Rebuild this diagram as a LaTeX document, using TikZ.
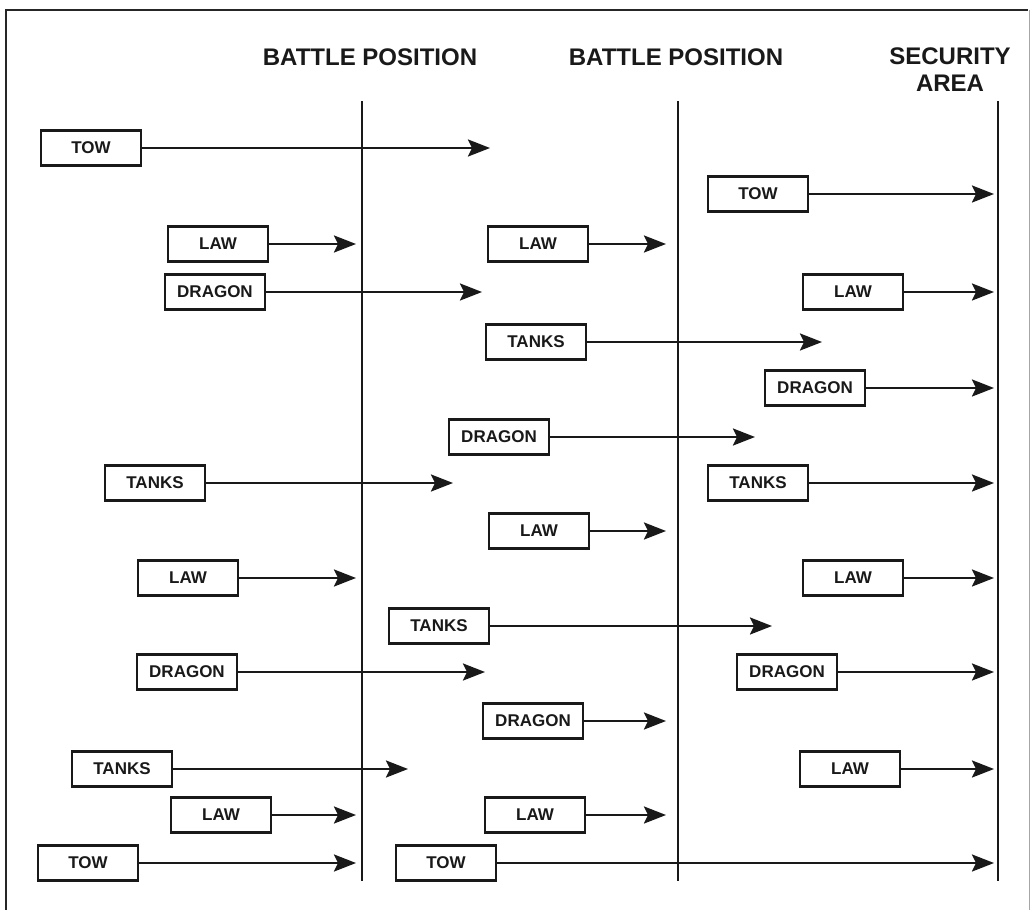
\documentclass[tikz,border=0pt]{standalone}
\usepackage{fontspec}
\setmainfont{Liberation Sans}
\usetikzlibrary{arrows.meta}
\begin{document}
\begin{tikzpicture}[x=1pt,y=-1pt,
  weapon/.style={draw=black!90, line width=2.4pt, fill=white, minimum width=100pt,
    minimum height=35pt, inner sep=0pt, font=\fontsize{17}{17}\selectfont\bfseries,
    text=black!90},
  fire/.style={draw=black!90, line width=2.4pt,
    -{Stealth[length=22pt,width=17pt,inset=4pt]}},
  phase/.style={line width=2.4pt, draw=black!90},
  heading/.style={font=\fontsize{24}{27}\selectfont\bfseries, text=black!90,
    align=center, inner sep=0pt}]
\useasboundingbox (0,0) rectangle (1031,910);
\fill[white] (0,0) rectangle (1031,910);

% outer frame (open at the bottom)
\draw[black!85, line width=2.4pt] (6,915) -- (6,10) -- (1028,10);
\draw[black!35, line width=1.2pt] (1029.5,10) -- (1029.5,915);

% area headings
\node[heading] (h1) at (370,57) {BATTLE POSITION};
\node[heading] (h2) at (676,57) {BATTLE POSITION};
\node[heading] (h3) at (950,70) {SECURITY\\AREA};

% position lines
\coordinate (l1a) at (362,101); \coordinate (l1b) at (362,881);
\coordinate (l2a) at (678,101); \coordinate (l2b) at (678,881);
\coordinate (l3a) at (998,101); \coordinate (l3b) at (998,881);
\draw[phase] (l1a) -- (l1b);
\draw[phase] (l2a) -- (l2b);
\draw[phase] (l3a) -- (l3b);

% weapon systems: index / label / box centre x / row y / range limit x
\foreach \i/\lbl/\cx/\ry/\tx in {
   1/TOW/91/148/490,
   2/TOW/758/194/994,
   3/LAW/218/244/356,
   4/LAW/538/244/666,
   5/DRAGON/215/292/482,
   6/LAW/853/292/994,
   7/TANKS/536/342/822,
   8/DRAGON/815/388/994,
   9/DRAGON/499/437/755,
  10/TANKS/155/483/453,
  11/TANKS/758/483/994,
  12/LAW/539/531/666,
  13/LAW/188/578/356,
  14/LAW/853/578/994,
  15/TANKS/439/626/772,
  16/DRAGON/187/672/485,
  17/DRAGON/787/672/994,
  18/DRAGON/533/721/666,
  19/TANKS/122/769/408,
  20/LAW/850/769/994,
  21/LAW/221/815/356,
  22/LAW/535/815/666,
  23/TOW/88/863/356,
  24/TOW/446/863/994}{
  \node[weapon] (b\i) at (\cx,\ry) {\lbl};
  \coordinate (t\i) at (\tx,\ry);
  \draw[fire] (b\i.east) -- (t\i);
}
\end{tikzpicture}
\end{document}
